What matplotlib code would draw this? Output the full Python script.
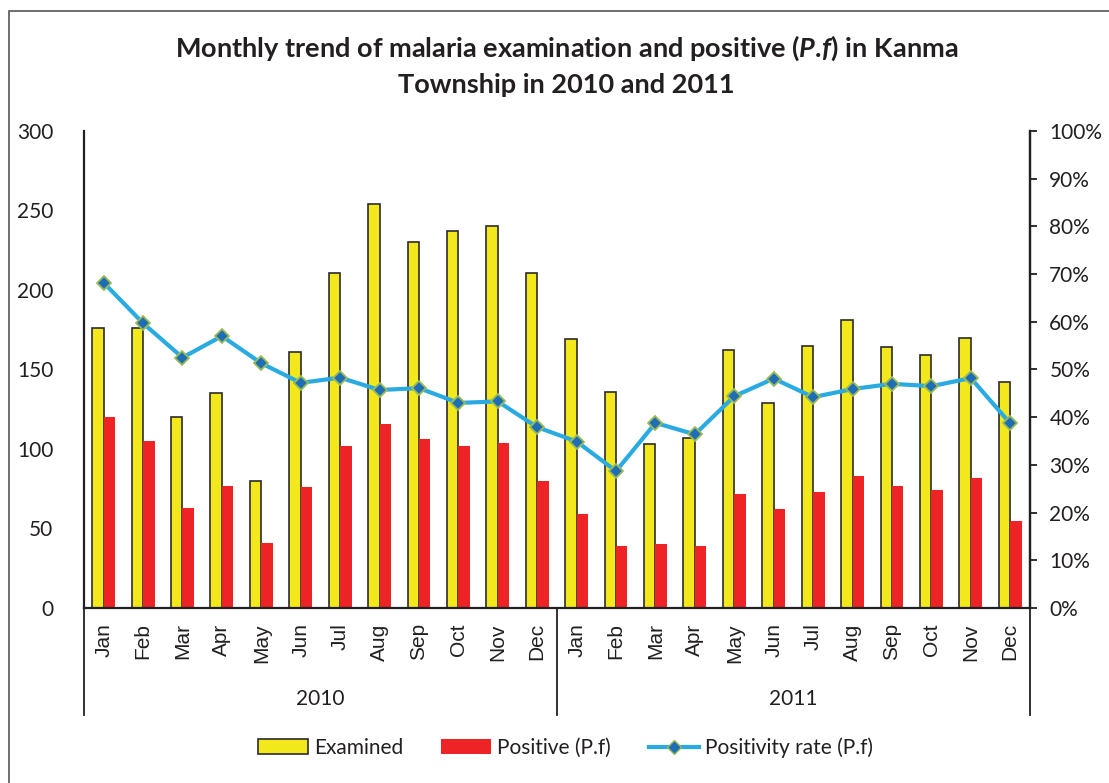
import numpy as np
import matplotlib.pyplot as plt
import matplotlib.transforms as mtransforms
from matplotlib.ticker import PercentFormatter
from matplotlib.lines import Line2D
from matplotlib.patches import Patch, Rectangle

plt.rcParams['font.family'] = ['Lato', 'DejaVu Sans']
plt.rcParams['mathtext.fontset'] = 'custom'
plt.rcParams['mathtext.it'] = 'Lato:italic:bold'
plt.rcParams['mathtext.bf'] = 'Lato:bold'
plt.rcParams['mathtext.rm'] = 'Lato:bold'

months = ['Jan', 'Feb', 'Mar', 'Apr', 'May', 'Jun',
          'Jul', 'Aug', 'Sep', 'Oct', 'Nov', 'Dec']
years = ['2010', '2011']

examined = [176, 176, 120, 135, 80, 161, 211, 254, 230, 237, 240, 211,
            169, 136, 103, 107, 162, 129, 165, 181, 164, 159, 170, 142]
positive = [120, 105, 63, 77, 41, 76, 102, 116, 106, 102, 104, 80,
            59, 39, 40, 39, 72, 62, 73, 83, 77, 74, 82, 55]
rate = [68.2, 59.7, 52.5, 57.0, 51.3, 47.2, 48.3, 45.7, 46.1, 43.0, 43.3, 37.9,
        34.9, 28.7, 38.8, 36.4, 44.4, 48.1, 44.2, 45.9, 47.0, 46.5, 48.2, 38.7]

YELLOW = '#F2E81C'
RED = '#EE2326'
BLUE_LINE = '#29ABE2'
txt = '#231F20'

x = np.arange(len(examined))
w = 0.29

fig = plt.figure(figsize=(11.09, 7.83), dpi=100)
ax = fig.add_axes([0.0757, 0.2235, 0.8530, 0.6092])
ax2 = ax.twinx()

ax.bar(x - w / 2, examined, w, color=YELLOW, edgecolor='#2b2b2b', linewidth=1.2, zorder=2)
ax.bar(x + w / 2, positive, w, color=RED, zorder=2)
ax2.plot(x, rate, color=BLUE_LINE, linewidth=3, marker='D', markersize=7.5,
         markerfacecolor='#1F6DB5', markeredgecolor='#9BBB59', markeredgewidth=1.3, zorder=3)

ax.set_xlim(-0.5, len(examined) - 0.5)
ax.set_ylim(0, 300)
ax.set_yticks(range(0, 301, 50))
ax2.set_ylim(0, 100)
ax2.set_yticks(range(0, 101, 10))
ax2.yaxis.set_major_formatter(PercentFormatter(decimals=0))

for a in (ax, ax2):
    a.spines['top'].set_visible(False)
    for s in a.spines.values():
        s.set_linewidth(1.6)
        s.set_color(txt)
ax2.spines['left'].set_visible(False)
ax2.spines['bottom'].set_visible(False)

ax.tick_params(axis='y', length=0, pad=22, labelsize=15, labelcolor=txt)
ax2.tick_params(axis='y', length=5, width=1.3, direction='out', pad=9,
                labelsize=15, labelcolor=txt, color=txt)

ax.set_xticks(x)
ax.set_xticklabels(months * 2, rotation=90, fontsize=15, color=txt,
                   family=['Liberation Sans', 'DejaVu Sans'])
ax.tick_params(axis='x', length=0, pad=11)

# year group lines and labels below the axis
trans = mtransforms.blended_transform_factory(ax.transData, ax.transAxes)
for sx in [-0.5, 11.5, 23.5]:
    ax.plot([sx, sx], [0, -0.224], transform=trans, color=txt, linewidth=1.3, clip_on=False)
for i, yr in enumerate(years):
    ax.text(5.5 + 12 * i, -0.19, yr, transform=trans, ha='center', va='center',
            fontsize=15, color=txt)

fig.text(0.511, 0.938, 'Monthly trend of malaria examination and positive ($\\mathit{P.\\!f}$) in Kanma',
         ha='center', va='center', fontsize=19.5, fontweight='bold', color=txt)
fig.text(0.511, 0.891, 'Township in 2010 and 2011',
         ha='center', va='center', fontsize=19.5, fontweight='bold', color=txt)

# outer chart border
fig.patches.append(Rectangle((0.0081, -0.02), 1.1, 1.006, transform=fig.transFigure,
                             fill=False, edgecolor='#555555', linewidth=1.2))

handles = [Patch(facecolor=YELLOW, edgecolor='#2b2b2b', linewidth=1.2),
           Patch(facecolor=RED),
           Line2D([], [], color=BLUE_LINE, linewidth=3, marker='D', markersize=7.5,
                  markerfacecolor='#1F6DB5', markeredgecolor='#9BBB59')]
fig.legend(handles, ['Examined', 'Positive (P.f)', 'Positivity rate (P.f)'],
           loc='center', bbox_to_anchor=(0.51, 0.045), ncol=3, frameon=False,
           fontsize=15, handlelength=2.4, handletextpad=0.3, columnspacing=1.8,
           labelcolor=txt)

fig.savefig('out.png', dpi=100)
